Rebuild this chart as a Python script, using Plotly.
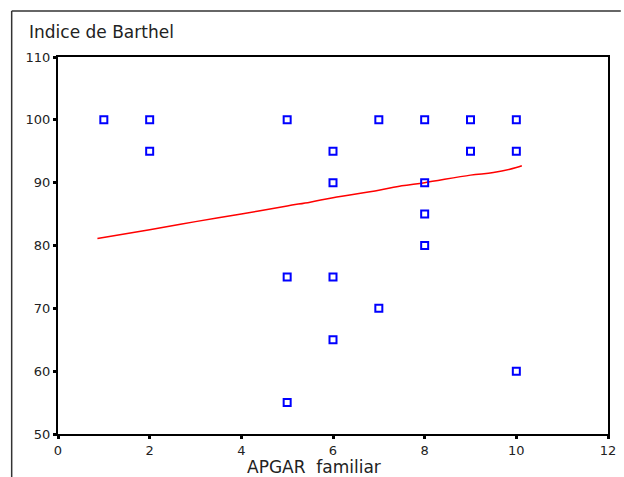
import plotly.graph_objects as go

apgar = [1, 2, 2, 5, 5, 5, 6, 6, 6, 6, 7, 7, 8, 8, 8, 8, 9, 9, 10, 10, 10]
barthel = [100, 100, 95, 100, 75, 55, 95, 90, 75, 65, 100, 70, 100, 90, 85, 80, 100, 95, 100, 95, 60]

fit_x = [0.86, 2, 3, 4, 5, 5.5, 6, 7, 7.5, 8, 9, 9.5, 10, 10.12]
fit_y = [81.1, 82.5, 83.8, 85.0, 86.3, 86.9, 87.6, 88.8, 89.5, 90.0, 91.2, 91.6, 92.4, 92.7]

x_ticks = [0, 2, 4, 6, 8, 10, 12]
y_ticks = [50, 60, 70, 80, 90, 100, 110]

W, H = 624, 477
ml, mr, mt, mb = 58, 8, 57, 43
pw, ph = W - ml - mr, H - mt - mb

FONT = "DejaVu Sans, Liberation Sans, sans-serif"

def px(xs):
    return (xs - ml) / pw

def py(ys):
    return (H - mb - ys) / ph

fig = go.Figure()
fig.add_trace(go.Scatter(
    x=fit_x, y=fit_y, mode="lines",
    line=dict(color="#ff0000", width=1.5, shape="spline"),
    showlegend=False, hoverinfo="skip"))
fig.add_trace(go.Scatter(
    x=apgar, y=barthel, mode="markers",
    marker=dict(symbol="square-open", size=7, color="#0000ff", line=dict(width=2, color="#0000ff")),
    showlegend=False))

axis_common = dict(
    showgrid=False, zeroline=False, showline=True, linecolor="black", linewidth=2,
    mirror=True, ticks="outside", ticklen=3, tickwidth=3, tickcolor="black",
    tickfont=dict(family=FONT, size=13, color="#222222"),
)
fig.update_xaxes(range=[0, 12], tickvals=x_ticks, **axis_common)
fig.update_yaxes(range=[50, 110], tickvals=y_ticks, **axis_common)

fig.update_layout(
    width=W, height=H, autosize=False,
    margin=dict(l=ml, r=mr, t=mt, b=mb),
    paper_bgcolor="white", plot_bgcolor="white",
    shapes=[
        dict(type="line", xref="paper", yref="paper", x0=px(11), x1=px(11), y0=py(11), y1=py(H + 5),
             line=dict(color="#333333", width=1.5)),
        dict(type="line", xref="paper", yref="paper", x0=px(11), x1=px(W + 5), y0=py(11), y1=py(11),
             line=dict(color="#333333", width=1.5)),
    ],
    annotations=[
        dict(text="Indice de Barthel", xref="paper", yref="paper", x=px(27), y=py(32),
             xanchor="left", yanchor="middle", showarrow=False,
             font=dict(family=FONT, size=17, color="#222222")),
        dict(text="APGAR\u00a0 familiar", xref="paper", yref="paper", x=px(318), y=py(467),
             xanchor="center", yanchor="middle", showarrow=False,
             font=dict(family=FONT, size=17, color="#222222")),
    ],
)

fig.write_html(
    "out.html",
    config={"responsive": False, "displayModeBar": False},
    post_script="document.body.style.margin='0';document.body.style.padding='0';"
                "document.body.style.overflow='hidden';document.documentElement.style.overflow='hidden';",
)
